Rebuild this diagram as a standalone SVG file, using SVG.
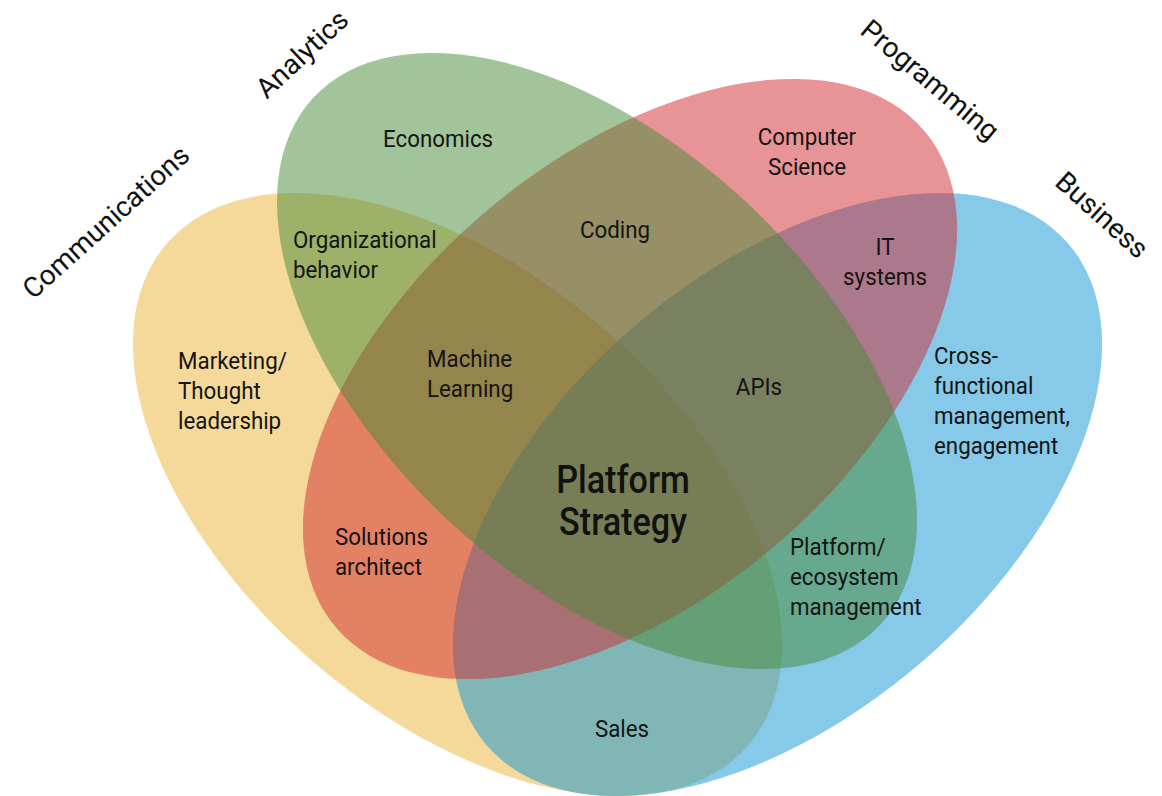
<svg xmlns="http://www.w3.org/2000/svg" width="1162" height="796" viewBox="0 0 1162 796">
  <style>
    .set { fill-opacity: 0.5; stroke: none; }
    .lbl { font-family: Roboto, "Noto Sans", "Liberation Sans", sans-serif; font-size: 23.5px; fill: #141414; }
    .mid { text-anchor: middle; }
    .head { font-family: Roboto, "Noto Sans", "Liberation Sans", sans-serif; font-size: 28px; fill: #111; text-anchor: middle; dominant-baseline: central; }
    .title { font-family: Roboto, "Noto Sans", "Liberation Sans", sans-serif; font-size: 38px; font-weight: 500; fill: #111; text-anchor: middle; }
  </style>
  <rect width="1162" height="796" fill="#ffffff"/>

  <g id="set-communications">
    <ellipse class="set" cx="0" cy="0" rx="384" ry="221" fill="#EBB335" transform="translate(457.5 494.5) rotate(40.8)"/>
  </g>
  <g id="set-business">
    <ellipse class="set" cx="0" cy="0" rx="384" ry="221" fill="#0D93D1" transform="translate(777.5 494.5) rotate(-40.8)"/>
  </g>
  <g id="set-programming">
    <ellipse class="set" cx="0" cy="0" rx="385" ry="221" fill="#D1292F" transform="translate(630 379) rotate(-40.1)"/>
  </g>
  <g id="set-analytics">
    <ellipse class="set" cx="0" cy="0" rx="387" ry="218" fill="#458935" transform="translate(597 361) rotate(42.9)"/>
  </g>

  <g id="headings">
    <text class="head" transform="translate(106 222) rotate(-42)">Communications</text>
    <text class="head" transform="translate(302 54) rotate(-43)">Analytics</text>
    <text class="head" transform="translate(930 80) rotate(40)">Programming</text>
    <text class="head" transform="translate(1102 215) rotate(42)">Business</text>
  </g>

  <g id="labels" transform="scale(0.95 1)">
    <text class="lbl" x="403.2" y="147">Economics</text>
    <text class="lbl" x="308.4" y="248">Organizational</text>
    <text class="lbl" x="308.4" y="278">behavior</text>
    <text class="lbl" x="187.4" y="369">Marketing/</text>
    <text class="lbl" x="187.4" y="399">Thought</text>
    <text class="lbl" x="187.4" y="429">leadership</text>
    <text class="lbl" x="610.5" y="238">Coding</text>
    <text class="lbl mid" x="849.5" y="145">Computer</text>
    <text class="lbl mid" x="849.5" y="175">Science</text>
    <text class="lbl mid" x="931.6" y="255">IT</text>
    <text class="lbl mid" x="931.6" y="285">systems</text>
    <text class="lbl" x="449.5" y="367">Machine</text>
    <text class="lbl" x="449.5" y="397">Learning</text>
    <text class="lbl mid" x="798.9" y="395">APIs</text>
    <text class="lbl" x="983.2" y="364">Cross-</text>
    <text class="lbl" x="983.2" y="394">functional</text>
    <text class="lbl" x="983.2" y="424">management,</text>
    <text class="lbl" x="983.2" y="454">engagement</text>
    <text class="lbl" x="352.6" y="545">Solutions</text>
    <text class="lbl" x="352.6" y="575">architect</text>
    <text class="lbl" x="831.6" y="555">Platform/</text>
    <text class="lbl" x="831.6" y="585">ecosystem</text>
    <text class="lbl" x="831.6" y="615">management</text>
    <text class="lbl mid" x="654.7" y="737">Sales</text>
  </g>

  <g id="center-label" transform="scale(0.9 1)">
    <text class="title" x="692.2" y="493">Platform</text>
    <text class="title" x="692.2" y="535">Strategy</text>
  </g>
</svg>
